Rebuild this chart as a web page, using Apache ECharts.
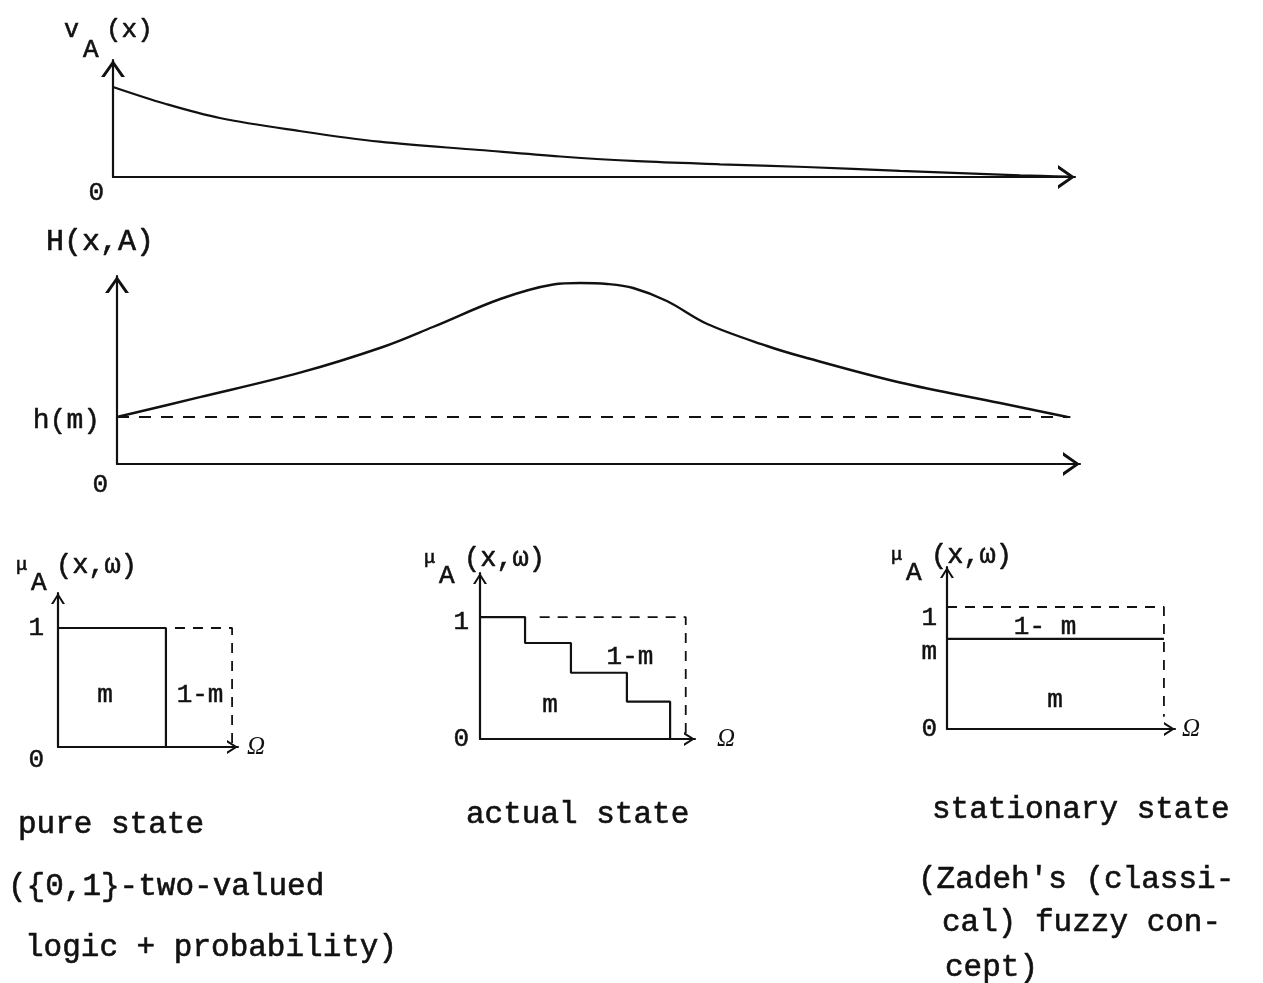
<!DOCTYPE html>
<html>
<head>
<meta charset="utf-8">
<script src="https://cdn.jsdelivr.net/npm/echarts@6/dist/echarts.min.js"></script>
<style>
  html, body { margin: 0; padding: 0; background: #ffffff; }
  #chart { width: 1263px; height: 983px; }
</style>
</head>
<body>
<div id="chart"></div>
<script>
// ---- v_A(x): value of A, decaying along x ----
const vX = [0, 5.5, 11.1, 19.4, 27.7, 38.1, 46.5, 54.5, 63.1, 72, 81.8, 94.3, 99.5];
const vY = [90, 73, 59, 46, 35.3, 27, 20.5, 15.8, 12.7, 10, 6.2, 1.7, 0.5];

// ---- H(x,A): entropy-like hump above the level h(m) ----
const hX = [0, 8.6, 19, 27.6, 32.8, 39.8, 45.3, 48.1, 50.9, 53.6, 57.1, 61.3, 67.5, 70.9, 81.3, 91.7, 98.7];
const hY = [47, 66.8, 91.3, 117, 137, 165, 179.5, 181, 180, 176, 163, 140, 118, 108, 81.5, 61, 47];
const hLevel = 47;
const hLevelEnd = 99;

// ---- membership diagrams over Ω ----
const pureM = 0.62;                       // width of the "true" block
const pureSolid = [[0, 1], [pureM, 1], [pureM, 0]];
const pureDashed = [[0.672, 1], [1, 1], [1, 0.02]];

const actualSteps = [[0, 1], [0.219, 0.787], [0.442, 0.543], [0.714, 0.306], [0.924, 0]];
const actualDashed = [[0.29, 1], [1, 1], [1, 0.03]];

const statM = 0.738;                      // constant membership level
const statSolid = [[0, statM], [1, statM]];
const statDashed = [[0, 1], [1, 1], [1, 0.1]];

// annotation labels placed in data space: [x, y, text]
const pureNotes = [[0.27, 0.437, 'm'], [0.816, 0.437, '1-m']];
const actualNotes = [[0.729, 0.672, '1-m'], [0.34, 0.279, 'm']];
const statNotes = [[0.452, 0.836, '1- m'], [0.498, 0.238, 'm']];

const captionsLeft = ['pure state', '({0,1}-two-valued', 'logic + probability)'];
const captionsMid = ['actual state'];
const captionsRight = ['stationary state', "(Zadeh's (classi-", 'cal) fuzzy con-', 'cept)'];

const INK = '#111111';
const MONO = '"Liberation Mono", "DejaVu Sans Mono", monospace';
const SERIF = '"Liberation Serif", "DejaVu Serif", serif';

// open chevron arrow heads (pointing up; ECharts rotates them to the axis)
const BIG_ARROW = 'path://M0,17 L12,0 L24,17 L20.3,17 L12,5 L3.7,17 Z';
const SMALL_ARROW = 'path://M0,11 L7,0 L14,11 L11.6,11 L7,3.6 L2.4,11 Z';

function axisLine(big) {
  return {
    show: true,
    onZero: false,
    lineStyle: { color: INK, width: 2.2 },
    symbol: ['none', big ? BIG_ARROW : SMALL_ARROW],
    symbolSize: big ? [24, 17] : [14, 11],
    symbolOffset: [0, big ? -8.5 : -5.5]
  };
}

function baseAxis(gridIndex, max, big) {
  return {
    gridIndex, type: 'value', min: 0, max,
    axisLine: axisLine(big),
    axisTick: { show: false },
    splitLine: { show: false },
    axisLabel: { show: false }
  };
}

function yLabels(values, formatter, margin, rich) {
  return {
    show: true,
    customValues: values,
    margin,
    color: INK,
    fontFamily: MONO,
    fontSize: 26,
    formatter,
    rich
  };
}

function notesSeries(idx, notes, size) {
  return {
    type: 'scatter',
    xAxisIndex: idx, yAxisIndex: idx,
    symbolSize: 0,
    silent: true,
    itemStyle: { opacity: 1 },
    data: notes.map(n => ({ value: [n[0], n[1]], name: n[2] })),
    label: {
      show: true, position: 'inside',
      formatter: p => p.name,
      color: INK, opacity: 1, fontFamily: MONO, fontSize: size,
      textBorderColor: INK, textBorderWidth: 0.5
    }
  };
}

function lineSeries(idx, data, opts) {
  return Object.assign({
    type: 'line',
    xAxisIndex: idx, yAxisIndex: idx,
    data,
    showSymbol: false,
    silent: true,
    lineStyle: { color: INK, width: 2.2 }
  }, opts || {});
}

const zip = (a, b) => a.map((v, i) => [v, b[i]]);

const omegaStyle = { color: INK, fontFamily: SERIF, fontSize: 25, fontStyle: 'italic' };

const xAxes = [
  baseAxis(0, 100, true),
  baseAxis(1, 100, true),
  Object.assign(baseAxis(2, 1.034, false), { name: 'Ω', nameLocation: 'end', nameGap: 9, nameTextStyle: omegaStyle }),
  Object.assign(baseAxis(3, 1.045, false), { name: 'Ω', nameLocation: 'end', nameGap: 22,
    nameTextStyle: Object.assign({ padding: [0, 0, 6, 0] }, omegaStyle) }),
  Object.assign(baseAxis(4, 1.051, false), { name: 'Ω', nameLocation: 'end', nameGap: 7, nameTextStyle: omegaStyle })
];

const tickRich = (extra) => Object.assign({ fontSize: 26, fontFamily: MONO, color: INK, textBorderColor: INK, textBorderWidth: 0.5 }, extra);

const yAxes = [
  Object.assign(baseAxis(0, 117, true), {
    axisLabel: yLabels([0], () => '{lo|0}', 9, { lo: tickRich({ padding: [32, 0, 0, 0] }) })
  }),
  Object.assign(baseAxis(1, 188, true), {
    axisLabel: yLabels([0, hLevel], v => v === 0 ? '{lo|0}' : '{h|h(m)}', 9, {
      lo: tickRich({ padding: [42, 0, 0, 0] }),
      h: tickRich({ padding: [8, 8, 0, 0], fontSize: 28 })
    })
  }),
  Object.assign(baseAxis(2, 1.294, false), {
    axisLabel: yLabels([0, 1], v => v === 0 ? '{lo|0}' : '{n|1}', 14, {
      lo: tickRich({ padding: [26, 0, 0, 0] }),
      n: tickRich({})
    })
  }),
  Object.assign(baseAxis(3, 1.361, false), {
    axisLabel: yLabels([0, 1], v => v === 0 ? '{n|0}' : '{d|1}', 11, {
      d: tickRich({ padding: [10, 0, 0, 0] }),
      n: tickRich({})
    })
  }),
  Object.assign(baseAxis(4, 1.328, false), {
    axisLabel: yLabels([0, statM, 1], v => v === 0 ? '{n|0}' : (v === 1 ? '{d|1}' : '{m|m}'), 10, {
      d: tickRich({ padding: [22, 0, 0, 0] }),
      m: tickRich({ padding: [26, 0, 0, 0] }),
      n: tickRich({})
    })
  })
];

const DASH = [12, 10];
const SMALL_DASH = [10, 8];

const series = [
  lineSeries(0, zip(vX, vY), { smooth: 0.35 }),
  lineSeries(1, zip(hX, hY), { smooth: 0.35, lineStyle: { color: INK, width: 2.4 } }),
  lineSeries(1, [[0, hLevel], [hLevelEnd, hLevel]], { lineStyle: { color: INK, width: 2, type: DASH } }),

  lineSeries(2, pureSolid),
  lineSeries(2, pureDashed, { lineStyle: { color: INK, width: 1.8, type: SMALL_DASH } }),
  notesSeries(2, pureNotes, 26),

  lineSeries(3, actualSteps, { step: 'end' }),
  lineSeries(3, actualDashed, { lineStyle: { color: INK, width: 1.8, type: SMALL_DASH } }),
  notesSeries(3, actualNotes, 26),

  lineSeries(4, statSolid),
  lineSeries(4, statDashed, { lineStyle: { color: INK, width: 1.8, type: SMALL_DASH } }),
  notesSeries(4, statNotes, 26)
];

function txt(x, y, text, size, family) {
  return {
    type: 'text', x, y, silent: true,
    style: {
      text, fill: INK,
      stroke: INK, lineWidth: 0.6,
      font: size + 'px ' + (family || MONO),
      textAlign: 'left', textVerticalAlign: 'middle'
    }
  };
}

// axis titles with subscripts
function muTitle(x, y) {
  return [
    txt(x, y + 2, 'μ', 19),
    txt(x + 15, y + 20, 'A', 26),
    txt(x + 40, y + 3, '(x,ω)', 27)
  ];
}

const graphics = [
  txt(64, 30, 'v', 25),
  txt(83, 50, 'A', 26),
  txt(106, 30, '(x)', 26),
  txt(46, 242, 'H(x,A)', 30),
  ...muTitle(16, 563),
  ...muTitle(424, 556),
  ...muTitle(891, 553),
  txt(18, 825, captionsLeft[0], 31),
  txt(8, 887, captionsLeft[1], 31),
  txt(25, 948, captionsLeft[2], 31),
  txt(466, 815, captionsMid[0], 31),
  txt(932, 810, captionsRight[0], 31),
  txt(918, 880, captionsRight[1], 31),
  txt(942, 923, captionsRight[2], 31),
  txt(945, 968, captionsRight[3], 31)
];

const chart = echarts.init(document.getElementById('chart'), null, { renderer: 'canvas' });
chart.setOption({
  backgroundColor: '#ffffff',
  animation: false,
  grid: [
    { left: 113, top: 60, width: 962, height: 117 },
    { left: 117, top: 276, width: 963, height: 188 },
    { left: 58, top: 593, width: 180, height: 154 },
    { left: 480, top: 573, width: 215, height: 166 },
    { left: 947, top: 567, width: 228, height: 162 }
  ],
  xAxis: xAxes,
  yAxis: yAxes,
  series,
  graphic: graphics
});
</script>
</body>
</html>
